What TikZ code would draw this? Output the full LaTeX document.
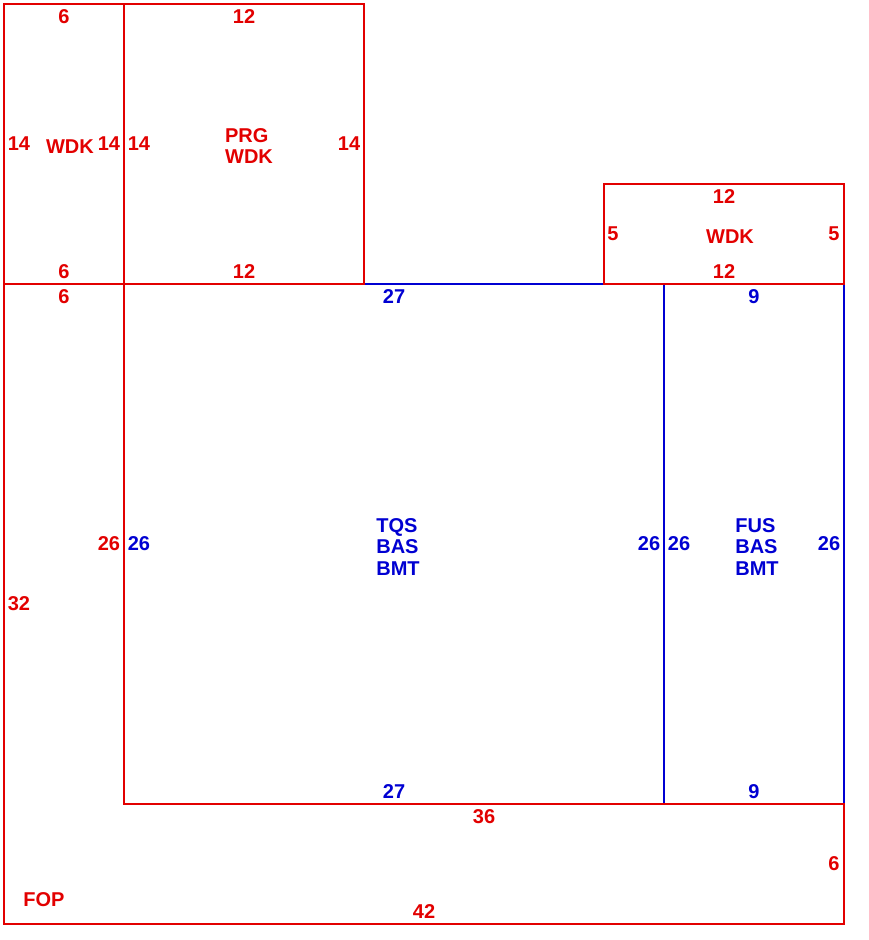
\documentclass[tikz,border=0pt]{standalone}
\usepackage{fontspec}
\setmainfont{Liberation Sans}
\definecolor{plred}{RGB}{226,0,0}
\definecolor{plblue}{RGB}{0,0,210}
\begin{document}
\begin{tikzpicture}[x=0.5pt,y=-0.5pt,
  redline/.style={draw=plred,line width=0.6pt},
  blueline/.style={draw=plblue,line width=0.6pt},
  rlab/.style={text=plred,font=\fontsize{10}{10.6}\selectfont\bfseries,inner sep=0pt,align=left},
  blab/.style={text=plblue,font=\fontsize{10}{10.6}\selectfont\bfseries,inner sep=0pt,align=left}]
\useasboundingbox (0,0) rectangle (868,940);
% blue rooms
\draw[blueline] (124,284) rectangle (664,804);
\draw[blueline] (664,284) rectangle (844,804);
% red rooms
\draw[redline] (4,4) rectangle (124,284);
\draw[redline] (124,4) rectangle (364,284);
\draw[redline] (604,184) rectangle (844,284);
\draw[redline] (4,284) -- (124,284) -- (124,804) -- (844,804) -- (844,924) -- (4,924) -- cycle;
% left WDK
\node[rlab] (a1) at (64,17) {6};
\node[rlab] (a2) at (64,272) {6};
\node[rlab] (a3) at (19,144) {14};
\node[rlab] (a4) at (109,144) {14};
\node[rlab] (a5) at (70,147) {WDK};
% PRG WDK
\node[rlab] (b1) at (244,17) {12};
\node[rlab] (b2) at (244,272) {12};
\node[rlab] (b3) at (139,144) {14};
\node[rlab] (b4) at (349,144) {14};
\node[rlab] (b5) at (249,146) {PRG\\WDK};
% right WDK
\node[rlab] (c1) at (724,197) {12};
\node[rlab] (c2) at (724,272) {12};
\node[rlab] (c3) at (613,234) {5};
\node[rlab] (c4) at (834,234) {5};
\node[rlab] (c5) at (730,237) {WDK};
% TQS
\node[blab] (d1) at (394,297) {27};
\node[blab] (d2) at (394,792) {27};
\node[blab] (d3) at (139,544) {26};
\node[blab] (d4) at (649,544) {26};
\node[blab] (d5) at (398,547) {TQS\\BAS\\BMT};
% FUS
\node[blab] (e1) at (754,297) {9};
\node[blab] (e2) at (754,792) {9};
\node[blab] (e3) at (679,544) {26};
\node[blab] (e4) at (829,544) {26};
\node[blab] (e5) at (757,547) {FUS\\BAS\\BMT};
% FOP
\node[rlab] (f1) at (64,297) {6};
\node[rlab] (f2) at (109,544) {26};
\node[rlab] (f3) at (19,604) {32};
\node[rlab] (f4) at (484,817) {36};
\node[rlab] (f5) at (834,864) {6};
\node[rlab] (f6) at (424,912) {42};
\node[rlab] (f7) at (44,900) {FOP};
\end{tikzpicture}
\end{document}
